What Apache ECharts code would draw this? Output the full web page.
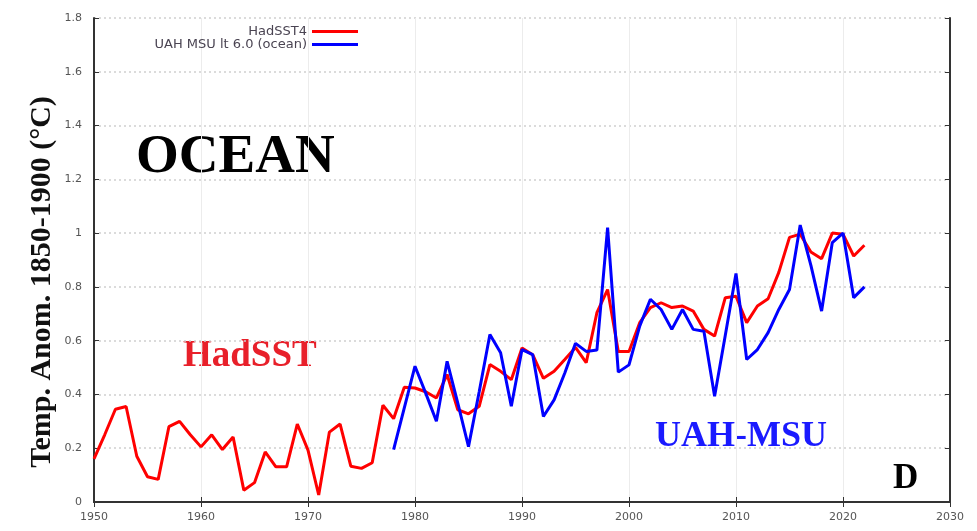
<!DOCTYPE html>
<html>
<head>
<meta charset="utf-8">
<script src="https://cdn.jsdelivr.net/npm/echarts@6/dist/echarts.min.js"></script>
<style>
html,body{margin:0;padding:0;background:#fff;}
#chart{width:977px;height:531px;}
</style>
</head>
<body>
<div id="chart"></div>
<script>
// ---- data ----
var hadYears = [1950,1951,1952,1953,1954,1955,1956,1957,1958,1959,1960,1961,1962,1963,1964,1965,1966,1967,1968,1969,1970,1971,1972,1973,1974,1975,1976,1977,1978,1979,1980,1981,1982,1983,1984,1985,1986,1987,1988,1989,1990,1991,1992,1993,1994,1995,1996,1997,1998,1999,2000,2001,2002,2003,2004,2005,2006,2007,2008,2009,2010,2011,2012,2013,2014,2015,2016,2017,2018,2019,2020,2021,2022];
var hadSST4 = [0.16,0.25,0.345,0.355,0.17,0.094,0.084,0.28,0.30,0.25,0.205,0.25,0.195,0.242,0.044,0.072,0.186,0.131,0.131,0.29,0.193,0.026,0.26,0.29,0.133,0.125,0.146,0.36,0.31,0.427,0.424,0.41,0.387,0.474,0.343,0.328,0.356,0.511,0.486,0.455,0.573,0.548,0.46,0.486,0.53,0.575,0.518,0.704,0.79,0.56,0.56,0.667,0.723,0.741,0.723,0.729,0.71,0.642,0.617,0.76,0.765,0.667,0.729,0.756,0.854,0.984,0.996,0.93,0.905,1.0,0.996,0.915,0.955];
var uahYears = [1978,1979,1980,1981,1982,1983,1984,1985,1986,1987,1988,1989,1990,1991,1992,1993,1994,1995,1996,1997,1998,1999,2000,2001,2002,2003,2004,2005,2006,2007,2008,2009,2010,2011,2012,2013,2014,2015,2016,2017,2018,2019,2020,2021,2022];
var uahMSU = [0.195,0.35,0.505,0.405,0.30,0.523,0.368,0.206,0.41,0.623,0.555,0.356,0.567,0.548,0.318,0.38,0.48,0.59,0.56,0.565,1.02,0.483,0.51,0.654,0.754,0.716,0.642,0.716,0.642,0.635,0.393,0.62,0.85,0.53,0.567,0.63,0.716,0.79,1.03,0.88,0.71,0.965,1.0,0.76,0.80];
var seriesNames = ['HadSST4','UAH MSU lt 6.0 (ocean)'];
var xTicks = {min:1950, max:2030, step:10};
var yTicks = {min:0, max:1.8, step:0.2};
var yTitle = 'Temp. Anom. 1850-1900 (°C)';

function pairs(xs, ys){ return xs.map(function(x,i){ return [x, ys[i]]; }); }

var chart = echarts.init(document.getElementById('chart'), null, {renderer:'canvas'});
var axisLine = {show:true, lineStyle:{color:'#333', width:2}};
var tickIn = {show:true, inside:true, length:5, lineStyle:{color:'#333', width:1}};
var labelFont = {fontFamily:'DejaVu Sans', fontSize:11, color:'#555'};
var legendText = {fontFamily:'DejaVu Sans', fontSize:13, color:'#4a4452'};
var serif = 'Liberation Serif';

chart.setOption({
  animation:false,
  backgroundColor:'#fff',
  grid:{left:94, right:27, top:18, bottom:29, containLabel:false},
  legend:[
    {data:[seriesNames[0]], right:619, top:25, align:'right', orient:'vertical', icon:'rect', itemWidth:46, itemHeight:3, itemGap:0, padding:0,
     textStyle:legendText},
    {data:[seriesNames[1]], right:619, top:38, align:'right', orient:'vertical', icon:'rect', itemWidth:46, itemHeight:3, itemGap:0, padding:0,
     textStyle:legendText}
  ],
  xAxis:[
    {type:'value', position:'bottom', min:xTicks.min, max:xTicks.max, interval:xTicks.step,
     axisLine:axisLine, axisTick:tickIn,
     axisLabel:Object.assign({margin:10, formatter:function(v){return String(v);}}, labelFont),
     splitLine:{show:true, lineStyle:{color:'#ececec', width:1, type:'solid'}}},
    {type:'value', position:'top', min:xTicks.min, max:xTicks.max, interval:xTicks.step,
     axisLine:axisLine, axisTick:tickIn, axisLabel:{show:false}, splitLine:{show:false}}
  ],
  yAxis:[
    {type:'value', position:'left', min:yTicks.min, max:yTicks.max, interval:yTicks.step,
     axisLine:axisLine, axisTick:tickIn,
     axisLabel:Object.assign({margin:12, formatter:function(v){return String(Math.round(v*10)/10);}}, labelFont),
     splitLine:{show:true, lineStyle:{color:'#cfcfcf', width:1.5, type:[2,3]}}},
    {type:'value', position:'right', min:yTicks.min, max:yTicks.max, interval:yTicks.step,
     axisLine:axisLine, axisTick:tickIn, axisLabel:{show:false}, splitLine:{show:false}}
  ],
  series:[
    {name:seriesNames[0], type:'line', data:pairs(hadYears, hadSST4), showSymbol:false, symbol:'none',
     lineStyle:{color:'#ff0000', width:3}, itemStyle:{color:'#ff0000'}, z:2},
    {name:seriesNames[1], type:'line', data:pairs(uahYears, uahMSU), showSymbol:false, symbol:'none',
     lineStyle:{color:'#0000ff', width:3}, itemStyle:{color:'#0000ff'}, z:3}
  ],
  graphic:[
    {type:'text', x:42, y:282, rotation:Math.PI/2,
     style:{text:yTitle, font:'bold 30px "Liberation Serif"', fill:'#111', align:'center', verticalAlign:'middle'}},
    {type:'text', left:136, top:130, style:{text:'OCEAN', font:'bold 55px "Liberation Serif"', fill:'#000'}},
    {type:'text', left:183, top:338, style:{text:'HadSST', font:'bold 37px "Liberation Serif"', fill:'#e8202a'}},
    {type:'text', left:655, top:419, style:{text:'UAH-MSU', font:'bold 36px "Liberation Serif"', fill:'#1a1aff'}},
    {type:'text', left:893, top:461, style:{text:'D', font:'bold 35px "Liberation Serif"', fill:'#000'}}
  ]
});
</script>
</body>
</html>
